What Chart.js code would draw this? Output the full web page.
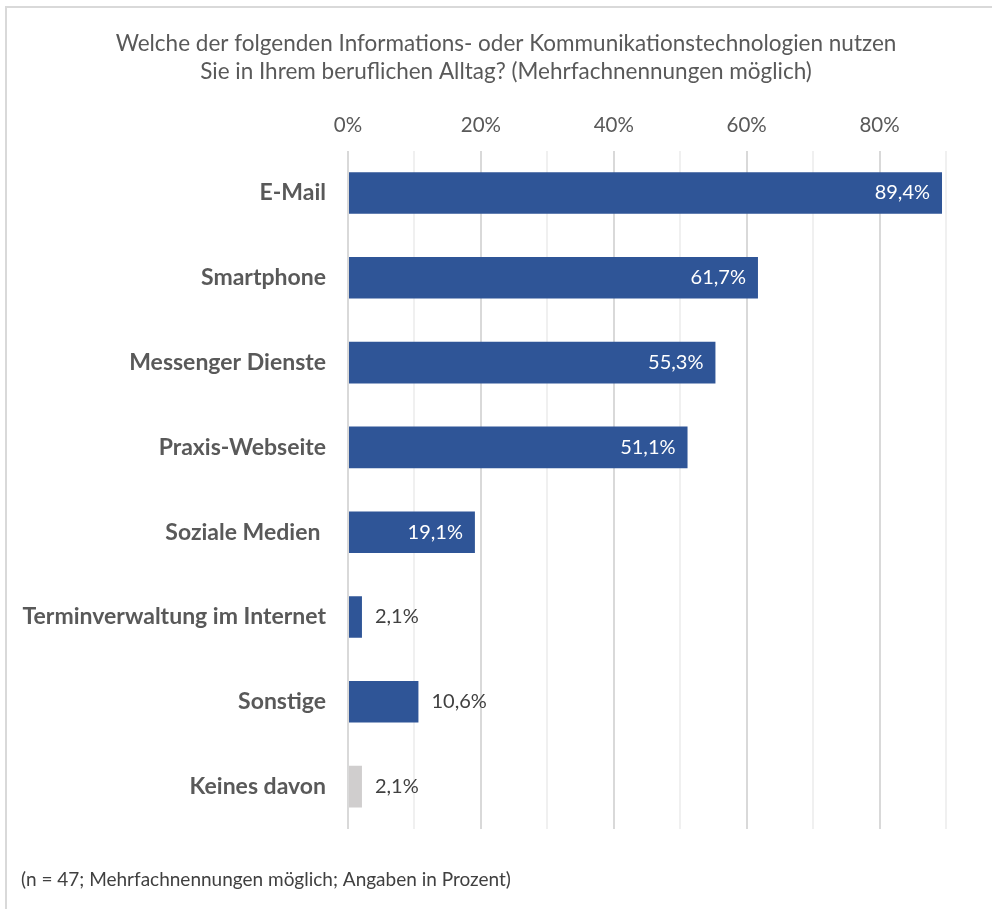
<!DOCTYPE html>
<html>
<head>
<meta charset="utf-8">
<script src="https://cdn.jsdelivr.net/npm/chart.js@4.4.0/dist/chart.umd.min.js"></script>
<style>
  html, body { margin: 0; padding: 0; background: #fff; }
  #wrap { position: absolute; left: 0; top: 0; width: 992px; height: 909px; }
  #frame { position: absolute; left: 5px; top: 6px; right: 0; bottom: 0;
           border-left: 2px solid #d9d9d9; border-top: 2px solid #d9d9d9; }
  canvas { position: absolute; left: 0; top: 0; }
</style>
</head>
<body>
<div id="wrap">
  <div id="frame"></div>
  <canvas id="chart" width="992" height="909"></canvas>
</div>
<script>
const categories = [
  "E-Mail",
  "Smartphone",
  "Messenger Dienste",
  "Praxis-Webseite",
  "Soziale Medien ",
  "Terminverwaltung im Internet",
  "Sonstige",
  "Keines davon"
];
const values = [89.4, 61.7, 55.3, 51.1, 19.1, 2.1, 10.6, 2.1];
const barColors = ["#2f5597", "#2f5597", "#2f5597", "#2f5597", "#2f5597", "#2f5597", "#2f5597", "#d0cece"];
const tickLabels = [0, 20, 40, 60, 80];
const titleLines = [
  "Welche der folgenden Informations- oder Kommunikationstechnologien nutzen",
  "Sie in Ihrem beruflichen Alltag? (Mehrfachnennungen möglich)"
];
const footnote = "(n = 47; Mehrfachnennungen möglich; Angaben in Prozent)";

const FONT = "Lato, 'Open Sans', sans-serif";
const GREY = "#595959";

// title, footnote and the value labels at the bar ends
const textPlugin = {
  id: "texts",
  afterDatasetsDraw(chart) {
    const ctx = chart.ctx;
    ctx.save();
    ctx.fillStyle = GREY;
    ctx.font = "22.5px " + FONT;
    ctx.textAlign = "center";
    ctx.textBaseline = "middle";
    ctx.fillText(titleLines[0], 506, 44);
    ctx.fillText(titleLines[1], 506, 72);

    ctx.fillStyle = "#404040";
    ctx.font = "19px " + FONT;
    ctx.textAlign = "left";
    ctx.fillText(footnote, 21, 880);

    ctx.font = "20px " + FONT;
    chart.getDatasetMeta(0).data.forEach((bar, i) => {
      const txt = values[i].toFixed(1).replace(".", ",") + "%";
      if (values[i] > 15) {
        ctx.fillStyle = "#ffffff";
        ctx.textAlign = "right";
        ctx.fillText(txt, bar.x - 12, bar.y);
      } else {
        ctx.fillStyle = "#404040";
        ctx.textAlign = "left";
        ctx.fillText(txt, bar.x + 13, bar.y);
      }
    });
    ctx.restore();
  }
};

new Chart(document.getElementById("chart"), {
  type: "bar",
  data: {
    labels: categories,
    datasets: [{
      data: values,
      backgroundColor: barColors,
      borderWidth: 0,
      categoryPercentage: 0.49,
      barPercentage: 1
    }]
  },
  options: {
    indexAxis: "y",
    responsive: false,
    animation: false,
    layout: { padding: { left: 10, right: 46, top: 100, bottom: 80 } },
    plugins: {
      legend: { display: false },
      tooltip: { enabled: false }
    },
    scales: {
      x: {
        position: "top",
        min: 0,
        max: 90,
        afterBuildTicks(scale) {
          scale.ticks = [];
          for (let v = 0; v <= 90; v += 10) scale.ticks.push({ value: v });
        },
        ticks: {
          color: GREY,
          font: { family: FONT, size: 20.5 },
          padding: 13,
          callback: v => tickLabels.includes(v) ? v + "%" : ""
        },
        grid: {
          drawTicks: false,
          lineWidth: 2,
          color: c => (c.tick && c.tick.value % 20 === 0) ? "#d9d9d9" : "#f0f0f0"
        },
        border: { display: false }
      },
      y: {
        afterFit(scale) { scale.width = 338; },
        ticks: {
          color: GREY,
          font: { family: FONT, size: 23, weight: "bold" },
          padding: 14
        },
        grid: { display: false },
        border: { display: false }
      }
    }
  },
  plugins: [textPlugin]
});
</script>
</body>
</html>
